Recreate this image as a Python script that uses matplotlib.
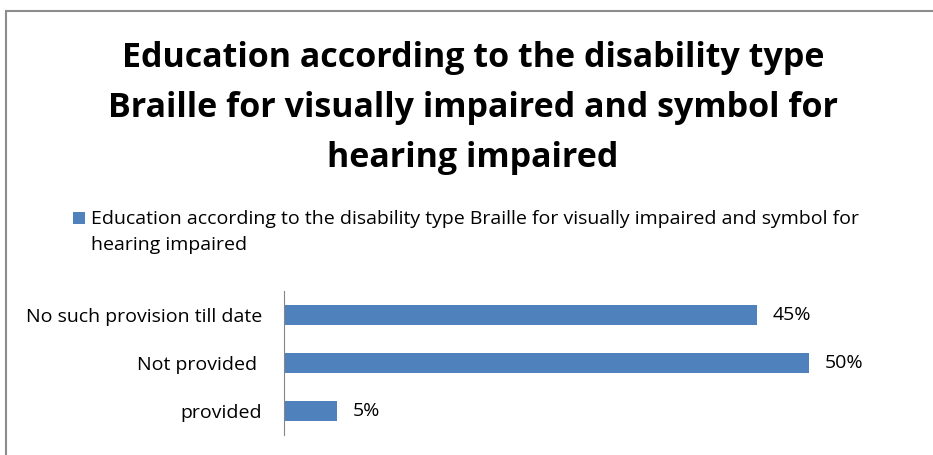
import matplotlib
matplotlib.use("Agg")
import matplotlib.pyplot as plt
import matplotlib.patches as mpatches

categories = ["provided", "Not provided ", "No such provision till date"]
values = [5, 50, 45]
value_labels = ["5%", "50%", "45%"]
series_name = ("Education according to the disability type Braille for visually impaired and symbol for\n"
               "hearing impaired")
title = ("Education according to the disability type\n"
         "Braille for visually impaired and symbol for\n"
         "hearing impaired")

plt.rcParams["font.family"] = ["Open Sans", "DejaVu Sans"]

W, H = 933, 455
fig = plt.figure(figsize=(W / 100, H / 100), dpi=100)

# outer chart border (partly cut off, like the screenshot)
fig.add_artist(mpatches.Rectangle((6 / W, -0.01), 1.0, 1 - 11 / H + 0.01,
                                  transform=fig.transFigure, fill=False,
                                  edgecolor="#8c8c8c", linewidth=1.5))

fig.text(473 / W, 1 - 108 / H, title, ha="center", va="center",
         fontsize=24.5, fontweight="bold", linespacing=1.6)

# legend
fig.add_artist(mpatches.Rectangle((73 / W, 1 - 224 / H), 12 / W, 12 / H,
                                  transform=fig.transFigure,
                                  facecolor="#4F81BD", edgecolor="none"))
fig.text(91 / W, 1 - 232 / H, series_name, ha="left", va="center",
         fontsize=14, linespacing=1.6)

ax = fig.add_axes([284 / W, 1 - 435 / H, 630 / W, 144 / H])
ax.barh(range(len(categories)), values, height=0.4, color="#4F81BD")
for i, (v, lab) in enumerate(zip(values, value_labels)):
    ax.text(v + 1.5, i, lab, va="center", ha="left", fontsize=14)

ax.set_xlim(0, 60)
ax.set_ylim(-0.5, len(categories) - 0.5)
ax.set_yticks(range(len(categories)))
ax.set_yticklabels(categories, fontsize=14)
ax.tick_params(axis="y", length=0, pad=16)
ax.set_xticks([])
for s in ["top", "right", "bottom"]:
    ax.spines[s].set_visible(False)
ax.spines["left"].set_color("#868686")

fig.savefig("out.png", dpi=100)
